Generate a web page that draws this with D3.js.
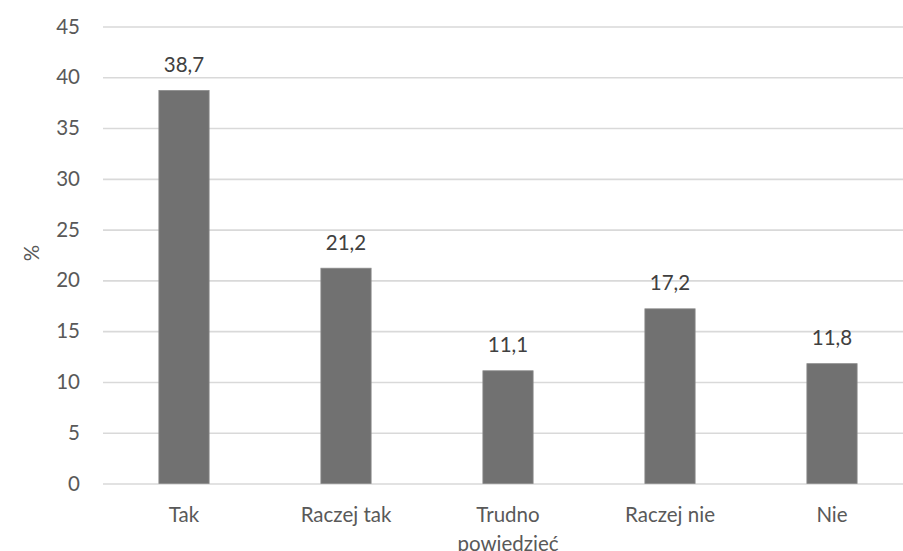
<!DOCTYPE html>
<html><head><meta charset="utf-8">
<script src="https://cdn.jsdelivr.net/npm/d3@7"></script>
<style>body{margin:0;background:#fff;overflow:hidden}svg{display:block}</style>
</head><body>
<svg id="c" width="903" height="551"></svg>
<script>
const categories = ["Tak", "Raczej tak", "Trudno powiedzieć", "Raczej nie", "Nie"];
const values = [38.7, 21.2, 11.1, 17.2, 11.8];
const valueLabels = ["38,7", "21,2", "11,1", "17,2", "11,8"];
const yTicks = [0, 5, 10, 15, 20, 25, 30, 35, 40, 45];
const yTitle = "%";

const svg = d3.select("#c");
const font = "Lato, 'Open Sans', sans-serif";
const fs = "20.5px";
const pLeft = 103, pRight = 913, pTop = 26.5, pBottom = 483.5;
const x = d3.scaleBand().domain(categories).range([pLeft, pRight]).paddingInner(0.69).paddingOuter(0.345);
const y = d3.scaleLinear().domain([0, 45]).range([pBottom, pTop]);

const yAxis = d3.axisLeft(y).tickValues(yTicks).tickSize(-(pRight-pLeft)).tickPadding(23);
const gy = svg.append("g").attr("transform", `translate(${pLeft},0)`).call(yAxis);
gy.select(".domain").remove();
gy.selectAll(".tick line").attr("stroke", "#d9d9d9").attr("stroke-width", 1.6);
gy.selectAll(".tick text").attr("fill", "#595959").style("font-family", font).style("font-size", fs);

svg.append("g").selectAll("rect").data(values).join("rect")
  .attr("x", (d,i) => x(categories[i]))
  .attr("width", x.bandwidth())
  .attr("y", d => y(d))
  .attr("height", d => y(0) - y(d))
  .attr("fill", "#717171")
  .attr("stroke", "#8a8a8a").attr("stroke-width", 0.8);

svg.append("g").selectAll("text").data(values).join("text")
  .attr("x", (d,i) => x(categories[i]) + x.bandwidth()/2)
  .attr("y", d => y(d) - 18.5)
  .attr("text-anchor", "middle")
  .attr("fill", "#404040")
  .style("font-family", font).style("font-size", fs)
  .text((d,i) => valueLabels[i]);

const xAxis = d3.axisBottom(x).tickSize(0).tickPadding(0);
const gx = svg.append("g").attr("transform", `translate(0,${pBottom})`).call(xAxis);
gx.select(".domain").remove();
gx.selectAll(".tick text").each(function(d) {
  const t = d3.select(this);
  t.text(null).attr("y", 0).attr("dy", null)
   .attr("fill", "#595959").style("font-family", font).style("font-size", fs);
  const words = d === "Trudno powiedzieć" ? ["Trudno", "powiedzieć"] : [d];
  words.forEach((w, k) => t.append("tspan").attr("x", 0).attr("y", 38.5 + k*29).text(w));
});

svg.append("text")
  .attr("transform", "translate(39,253) rotate(-90)")
  .attr("text-anchor", "middle")
  .attr("fill", "#595959")
  .style("font-family", font).style("font-size", fs)
  .text(yTitle);
</script>
</body></html>
